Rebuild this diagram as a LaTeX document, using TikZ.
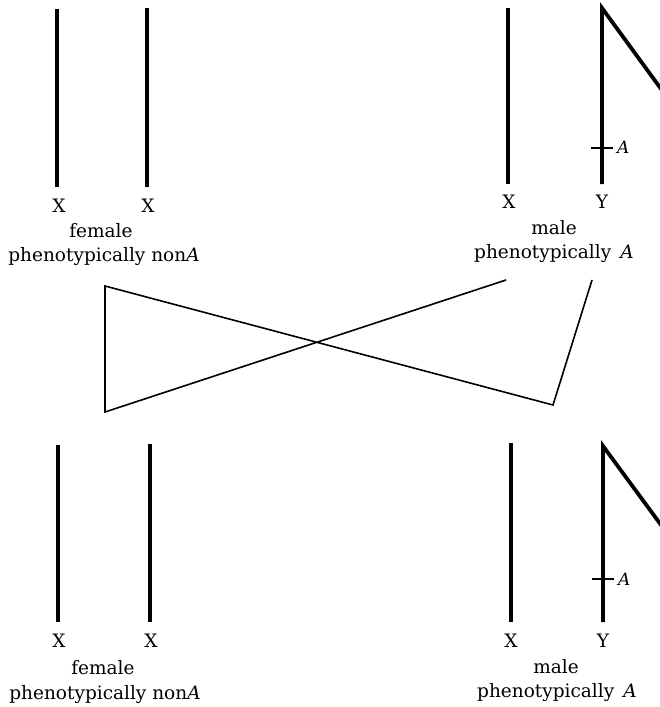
\documentclass[tikz,border=0pt]{standalone}
\usepackage{fontspec}
\setmainfont{DejaVu Serif}
\begin{document}
\begin{tikzpicture}[x=1pt,y=-1pt,
  chrom/.style={line width=3.8pt, line join=miter},
  tick/.style={line width=1.4pt},
  cross/.style={line width=1.6pt, line join=miter},
  lbl/.style={inner sep=0pt, anchor=base, font=\fontsize{18.5}{22}\selectfont},
  albl/.style={inner sep=0pt, anchor=west, font=\fontsize{17}{20}\selectfont\itshape}]
\useasboundingbox (0,0) rectangle (660,707);
% ---------- top female ----------
\coordinate (tf1t) at (57,9);  \coordinate (tf1b) at (57,187);
\coordinate (tf2t) at (147,8); \coordinate (tf2b) at (147,187);
\draw[chrom] (tf1t) -- (tf1b);
\draw[chrom] (tf2t) -- (tf2b);
\node[lbl] (tfx1) at (59,212) {X};
\node[lbl] (tfx2) at (148,212) {X};
\node[lbl] (tfsex) at (101,237) {female};
\node[lbl] (tfph) at (104,261) {phenotypically non\textit{A}};
% ---------- top male ----------
\coordinate (tmxt) at (508,8);  \coordinate (tmxb) at (508,184);
\coordinate (tmyt) at (602,8);  \coordinate (tmyb) at (602,184);
\coordinate (tmyd) at (664,93);
\draw[chrom] (tmxt) -- (tmxb);
\draw[chrom] (tmyb) -- (tmyt) -- (tmyd);
\coordinate (tta) at (591,148); \coordinate (ttb) at (613,148);
\draw[tick] (tta) -- (ttb);
\node[albl] (tA) at (617,147) {A};
\node[lbl] (tmx) at (509,208) {X};
\node[lbl] (tmy) at (602,208) {Y};
\node[lbl] (tmsex) at (554,234) {male};
\node[lbl] (tmph) at (554,258) {phenotypically\hspace{0.5em}\textit{A}};
% ---------- crossing lines ----------
\coordinate (c1) at (506,280);
\coordinate (c2) at (105,412);
\coordinate (c3) at (105,286);
\coordinate (c4) at (553,405);
\coordinate (c5) at (592,280);
\draw[cross] (c1) -- (c2) -- (c3) -- (c4) -- (c5);
% ---------- bottom female ----------
\coordinate (bf1t) at (58,445);  \coordinate (bf1b) at (58,622);
\coordinate (bf2t) at (150,444); \coordinate (bf2b) at (150,622);
\draw[chrom] (bf1t) -- (bf1b);
\draw[chrom] (bf2t) -- (bf2b);
\node[lbl] (bfx1) at (59,647) {X};
\node[lbl] (bfx2) at (151,647) {X};
\node[lbl] (bfsex) at (103,674) {female};
\node[lbl] (bfph) at (105,699) {phenotypically non\textit{A}};
% ---------- bottom male ----------
\coordinate (bmxt) at (511,443); \coordinate (bmxb) at (511,622);
\coordinate (bmyt) at (603,446); \coordinate (bmyb) at (603,622);
\coordinate (bmyd) at (664,529);
\draw[chrom] (bmxt) -- (bmxb);
\draw[chrom] (bmyb) -- (bmyt) -- (bmyd);
\coordinate (bta) at (592,579); \coordinate (btb) at (614,579);
\draw[tick] (bta) -- (btb);
\node[albl] (bA) at (618,579) {A};
\node[lbl] (bmx) at (511,647) {X};
\node[lbl] (bmy) at (603,647) {Y};
\node[lbl] (bmsex) at (556,673) {male};
\node[lbl] (bmph) at (557,697) {phenotypically\hspace{0.5em}\textit{A}};
\end{tikzpicture}
\end{document}
